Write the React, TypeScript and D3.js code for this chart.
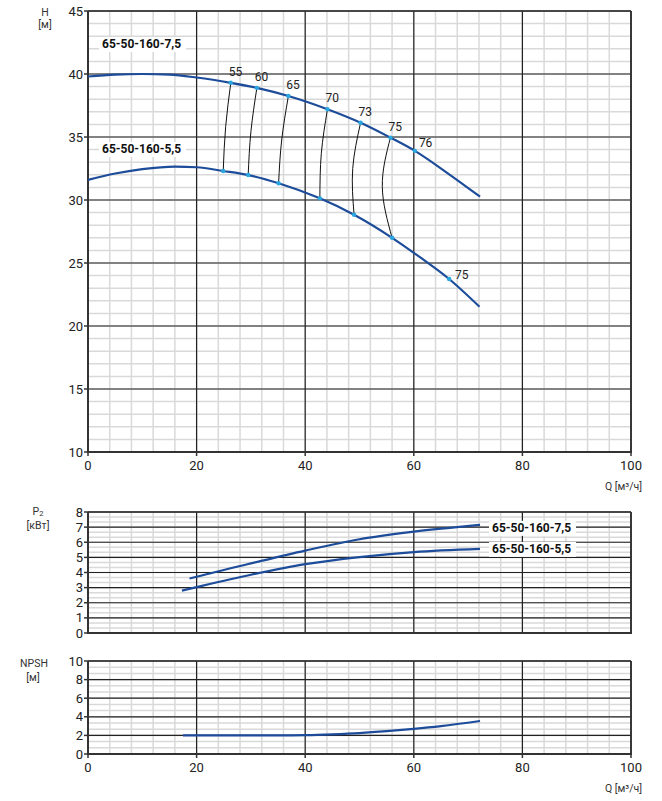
import React from 'react';
import * as d3 from 'd3';

const svgWidth = 662;
const svgHeight = 801;

// ticks
const qTicks = [0, 20, 40, 60, 80, 100];
const headTicks = [10, 15, 20, 25, 30, 35, 40, 45];
const powerTicks = [0, 1, 2, 3, 4, 5, 6, 7, 8];
const npshTicks = [0, 2, 4, 6, 8, 10];

// H(Q) curves
const headQ75 = [0, 5, 10, 15, 20, 26.3, 31.1, 36.9, 44.1, 50.2, 55.7, 60.2, 66, 72.2];
const headH75 = [39.8, 39.95, 40.0, 39.95, 39.72, 39.3, 38.9, 38.25, 37.2, 36.13, 34.95, 33.9, 32.2, 30.26];
const headQ55 = [0, 5, 10, 16, 20, 24.9, 29.5, 35.1, 42.7, 49.0, 56.0, 61, 66.5, 72.1];
const headH55 = [31.6, 32.1, 32.45, 32.65, 32.6, 32.3, 31.98, 31.33, 30.13, 28.83, 27.0, 25.5, 23.73, 21.53];

// КПД points
const effTopQ = [26.3, 31.1, 36.9, 44.1, 50.2, 55.7, 60.2];
const effTopH = [39.3, 38.9, 38.25, 37.2, 36.13, 34.95, 33.9];
const effTopLabels = ['55', '60', '65', '70', '73', '75', '76'];
const effBotQ = [24.9, 29.5, 35.1, 42.7, 49.0, 56.0, 66.5];
const effBotH = [32.3, 31.98, 31.33, 30.13, 28.83, 27.0, 23.73];
const effBotLabels = ['', '', '', '', '', '', '75'];
const isoMidQ = [25.35, 30.0, 35.67, 42.97, 48.75, 54.2];
const isoMidH = [35.82, 35.42, 34.76, 33.7, 32.49, 31.06];

// P2(Q)
const powerQ75 = [18.7, 20, 30, 40, 50, 60, 72.2];
const powerP75 = [3.6, 3.72, 4.6, 5.45, 6.2, 6.7, 7.15];
const powerQ55 = [17.3, 20, 30, 40, 50, 60, 72.2];
const powerP55 = [2.8, 3.03, 3.85, 4.55, 5.02, 5.35, 5.56];

// NPSH(Q)
const npshQ = [17.5, 25, 30, 35, 40, 45, 50, 55, 60, 65, 72.2];
const npshV = [2.0, 2.0, 2.0, 2.0, 2.03, 2.12, 2.25, 2.45, 2.7, 3.0, 3.55];

const names = ['65-50-160-7,5', '65-50-160-5,5'];

const font = 'Roboto, "Noto Sans", sans-serif';
const blue = '#1d4c9a';
const dot = '#2aa6e0';

const x = d3.scaleLinear().domain([0, 100]).range([88, 631]);
const yH = d3.scaleLinear().domain([10, 45]).range([452, 11]);
const yP = d3.scaleLinear().domain([0, 8]).range([633, 512]);
const yN = d3.scaleLinear().domain([0, 10]).range([754, 661]);

const pts = (qs: number[], vs: number[]) => qs.map((q, i) => [q, vs[i]] as [number, number]);

type PanelProps = {
  y: d3.ScaleLinear<number, number>;
  ticks: number[];
  minorPerMajor: number;
  xLabels: boolean;
};

const Panel = ({ y, ticks, minorPerMajor, xLabels }: PanelProps) => {
  const [y0, y1] = y.domain();
  const step = ticks[1] - ticks[0];
  const minorY = d3.range(y0, y1 + 1e-6, step / minorPerMajor);
  const minorX = d3.range(0, 100.001, 4);
  const left = x(0), right = x(100), top = y(y1), bottom = y(y0);
  return (
    <g>
      {minorX.map((v) => (
        <line key={'mx' + v} x1={x(v)} x2={x(v)} y1={top} y2={bottom} stroke="#d9d9d9" strokeWidth={1.5} />
      ))}
      {minorY.map((v) => (
        <line key={'my' + v} x1={left} x2={right} y1={y(v)} y2={y(v)} stroke="#d9d9d9" strokeWidth={1.5} />
      ))}
      {qTicks.map((v) => (
        <line key={'Mx' + v} x1={x(v)} x2={x(v)} y1={top} y2={bottom} stroke="#222" strokeWidth={1.2} />
      ))}
      {ticks.map((v) => (
        <line key={'My' + v} x1={left} x2={right} y1={y(v)} y2={y(v)} stroke="#222" strokeWidth={1.2} />
      ))}
      {/* rамка */}
      <line x1={right} x2={right} y1={top} y2={bottom} stroke="#333" strokeWidth={1.8} />
      <line x1={left} x2={right} y1={top} y2={top} stroke="#333" strokeWidth={1.5} />
      <line x1={left} x2={left} y1={top} y2={bottom + 1} stroke="#333" strokeWidth={2} />
      <line x1={left - 1} x2={right + 1} y1={bottom} y2={bottom} stroke="#333" strokeWidth={2} />
      {ticks.map((v) => (
        <g key={'t' + v}>
          <line x1={left - 4} x2={left} y1={y(v)} y2={y(v)} stroke="#333" strokeWidth={1.5} />
          <text x={left - 5} y={y(v)} dy="0.35em" textAnchor="end" fontSize={13} fill="#222">
            {v}
          </text>
        </g>
      ))}
      {xLabels &&
        qTicks.map((v) => (
          <g key={'xt' + v}>
            <line x1={x(v)} x2={x(v)} y1={bottom} y2={bottom + 4} stroke="#333" strokeWidth={1.5} />
            <text x={x(v)} y={bottom + 18} textAnchor="middle" fontSize={13} fill="#222">
              {v}
            </text>
          </g>
        ))}
      {xLabels && (
        <text x={642} y={bottom + 38} textAnchor="end" fontSize={10.5} fill="#333">
          Q [м³/ч]
        </text>
      )}
    </g>
  );
};

const NameBox = ({ tx, ty, label }: { tx: number; ty: number; label: string }) => (
  <g>
    <rect x={tx - 3} y={ty - 11} width={87} height={15} fill="#fff" />
    <text x={tx} y={ty} fontSize={12} fontWeight="bold" fill="#111">
      {label}
    </text>
  </g>
);

const App = () => {
  const lineH = d3
    .line<[number, number]>()
    .x((d) => x(d[0]))
    .y((d) => yH(d[1]))
    .curve(d3.curveMonotoneX);
  const lineP = d3
    .line<[number, number]>()
    .x((d) => x(d[0]))
    .y((d) => yP(d[1]))
    .curve(d3.curveMonotoneX);
  const lineN = d3
    .line<[number, number]>()
    .x((d) => x(d[0]))
    .y((d) => yN(d[1]))
    .curve(d3.curveMonotoneX);
  const iso = d3
    .line<[number, number]>()
    .x((d) => x(d[0]))
    .y((d) => yH(d[1]))
    .curve(d3.curveNatural);

  return (
    <svg
      width={svgWidth}
      height={svgHeight}
      style={{ position: 'absolute', left: 0, top: 0, background: '#fff' }}
      fontFamily={font}
    >
      {/* H */}
      <Panel y={yH} ticks={headTicks} minorPerMajor={5} xLabels={true} />
      <text x={45} y={16} textAnchor="middle" fontSize={10.5} fill="#333">H</text>
      <text x={45} y={28} textAnchor="middle" fontSize={10.5} fill="#333">[м]</text>

      <NameBox tx={102} ty={48} label={names[0]} />
      <NameBox tx={102} ty={153} label={names[1]} />

      {isoMidQ.map((q, i) => (
        <path
          key={'iso' + i}
          d={iso([[effTopQ[i], effTopH[i]], [q, isoMidH[i]], [effBotQ[i], effBotH[i]]]) || ''}
          fill="none"
          stroke="#111"
          strokeWidth={1}
        />
      ))}
      <path d={lineH(pts(headQ75, headH75)) || ''} fill="none" stroke={blue} strokeWidth={2.2} />
      <path d={lineH(pts(headQ55, headH55)) || ''} fill="none" stroke={blue} strokeWidth={2.2} />

      {effTopQ.map((q, i) => {
        const last = i === effTopQ.length - 1;
        return (
          <g key={'et' + i}>
            <circle cx={x(q)} cy={yH(effTopH[i])} r={2.2} fill={dot} />
            <text
              x={x(q) + (last ? 4 : -2)}
              y={yH(effTopH[i]) + (last ? -4 : -7)}
              fontSize={12}
              fill="#222"
            >
              {effTopLabels[i]}
            </text>
          </g>
        );
      })}
      {effBotQ.map((q, i) => (
        <g key={'eb' + i}>
          <circle cx={x(q)} cy={yH(effBotH[i])} r={2.2} fill={dot} />
          {effBotLabels[i] && (
            <text x={x(q) + 6} y={yH(effBotH[i])} fontSize={12} fill="#222">
              {effBotLabels[i]}
            </text>
          )}
        </g>
      ))}

      {/* P2 */}
      <Panel y={yP} ticks={powerTicks} minorPerMajor={3} xLabels={false} />
      <text x={38} y={515} textAnchor="middle" fontSize={10.5} fill="#333">
        P<tspan fontSize={7.5} dy={1}>2</tspan>
      </text>
      <text x={38} y={529} textAnchor="middle" fontSize={10.5} fill="#333">[кВт]</text>
      <path d={lineP(pts(powerQ75, powerP75)) || ''} fill="none" stroke={blue} strokeWidth={2.2} />
      <path d={lineP(pts(powerQ55, powerP55)) || ''} fill="none" stroke={blue} strokeWidth={2.2} />
      <NameBox tx={492} ty={yP(powerP75[powerP75.length - 1]) + 7} label={names[0]} />
      <NameBox tx={492} ty={yP(powerP55[powerP55.length - 1]) + 4} label={names[1]} />

      {/* NPSH */}
      <Panel y={yN} ticks={npshTicks} minorPerMajor={3} xLabels={true} />
      <text x={34} y={667} textAnchor="middle" fontSize={10.5} fill="#333">NPSH</text>
      <text x={33} y={681} textAnchor="middle" fontSize={10.5} fill="#333">[м]</text>
      <path d={lineN(pts(npshQ, npshV)) || ''} fill="none" stroke={blue} strokeWidth={2.2} />
    </svg>
  );
};

export default App;
